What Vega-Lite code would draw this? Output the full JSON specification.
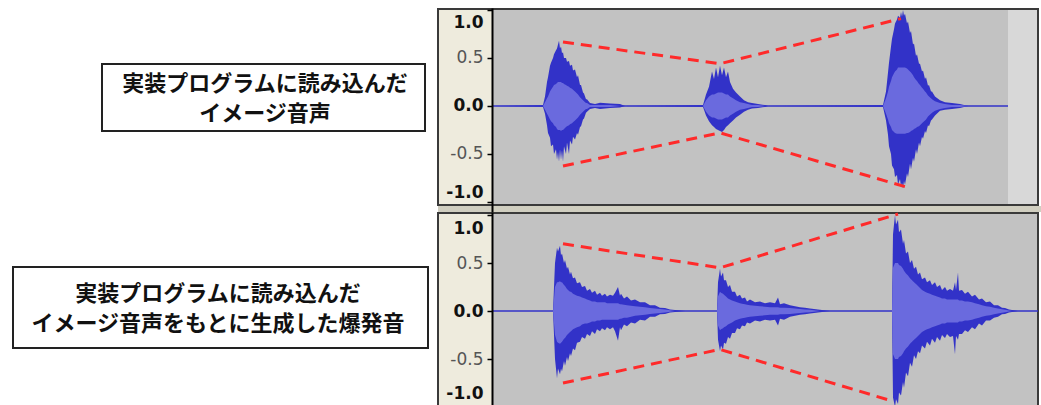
{
  "$schema": "https://vega.github.io/schema/vega-lite/v6.json",
  "background": "white",
  "padding": {"top": 7, "left": 0, "right": 0, "bottom": 0},
  "config": {"view": {"stroke": null}},
  "spacing": 0,
  "bounds": "flush",
  "datasets": {
    "regions": [
      {"p": "A", "part": "beige", "t1": -56, "t2": -1, "v1": -1.0417, "v2": 1.0208},
      {"p": "A", "part": "gray", "t1": -1, "t2": 514, "v1": -1.0417, "v2": 1.0208},
      {"p": "A", "part": "end", "t1": 514, "t2": 544, "v1": -1.0417, "v2": 1.0208},
      {"p": "A", "part": "band", "t1": -56, "t2": 547, "v1": -1.1042, "v2": -1.0417},
      {"p": "B", "part": "beige", "t1": -56, "t2": -1, "v1": -1.0, "v2": 1.03125},
      {"p": "B", "part": "gray", "t1": -1, "t2": 544, "v1": -1.0, "v2": 1.03125}
    ],
    "frames": [
      {"p": "A", "t1": -56, "t2": 544, "v1": -1.031, "v2": 1.0104},
      {"p": "B", "t1": -56, "t2": 544, "v1": -1.0, "v2": 1.0208}
    ],
    "baseline": [
      {"p": "A", "t1": -1, "t2": 514},
      {"p": "B", "t1": -1, "t2": 544}
    ],
    "wave": [
      {"p": "A", "t": 0, "h": 0, "l": 0, "rh": 0, "rl": 0},
      {"p": "A", "t": 49, "h": 0.01, "l": -0.01, "rh": 0, "rl": 0},
      {"p": "A", "t": 51, "h": 0.1, "l": -0.08, "rh": 0.04, "rl": -0.04},
      {"p": "A", "t": 53, "h": 0.25, "l": -0.2, "rh": 0.08, "rl": -0.08},
      {"p": "A", "t": 54, "h": 0.3, "l": -0.28, "rh": 0.1, "rl": -0.1},
      {"p": "A", "t": 56, "h": 0.42, "l": -0.33, "rh": 0.15, "rl": -0.14},
      {"p": "A", "t": 57, "h": 0.45, "l": -0.42, "rh": 0.17, "rl": -0.16},
      {"p": "A", "t": 59, "h": 0.5, "l": -0.4, "rh": 0.2, "rl": -0.18},
      {"p": "A", "t": 60, "h": 0.54, "l": -0.5, "rh": 0.22, "rl": -0.2},
      {"p": "A", "t": 62, "h": 0.58, "l": -0.45, "rh": 0.23, "rl": -0.22},
      {"p": "A", "t": 63, "h": 0.6, "l": -0.56, "rh": 0.24, "rl": -0.24},
      {"p": "A", "t": 64, "h": 0.64, "l": -0.48, "rh": 0.25, "rl": -0.25},
      {"p": "A", "t": 65, "h": 0.68, "l": -0.58, "rh": 0.25, "rl": -0.25},
      {"p": "A", "t": 66, "h": 0.6, "l": -0.45, "rh": 0.25, "rl": -0.25},
      {"p": "A", "t": 67, "h": 0.62, "l": -0.56, "rh": 0.25, "rl": -0.26},
      {"p": "A", "t": 68, "h": 0.55, "l": -0.46, "rh": 0.24, "rl": -0.25},
      {"p": "A", "t": 69, "h": 0.56, "l": -0.58, "rh": 0.24, "rl": -0.25},
      {"p": "A", "t": 70, "h": 0.5, "l": -0.42, "rh": 0.23, "rl": -0.24},
      {"p": "A", "t": 72, "h": 0.5, "l": -0.5, "rh": 0.22, "rl": -0.22},
      {"p": "A", "t": 73, "h": 0.46, "l": -0.38, "rh": 0.21, "rl": -0.21},
      {"p": "A", "t": 75, "h": 0.47, "l": -0.5, "rh": 0.2, "rl": -0.2},
      {"p": "A", "t": 76, "h": 0.42, "l": -0.36, "rh": 0.19, "rl": -0.19},
      {"p": "A", "t": 78, "h": 0.43, "l": -0.4, "rh": 0.18, "rl": -0.18},
      {"p": "A", "t": 79, "h": 0.37, "l": -0.32, "rh": 0.17, "rl": -0.17},
      {"p": "A", "t": 81, "h": 0.38, "l": -0.35, "rh": 0.15, "rl": -0.15},
      {"p": "A", "t": 83, "h": 0.3, "l": -0.28, "rh": 0.13, "rl": -0.13},
      {"p": "A", "t": 84, "h": 0.32, "l": -0.3, "rh": 0.12, "rl": -0.12},
      {"p": "A", "t": 86, "h": 0.22, "l": -0.22, "rh": 0.09, "rl": -0.09},
      {"p": "A", "t": 87, "h": 0.22, "l": -0.21, "rh": 0.08, "rl": -0.08},
      {"p": "A", "t": 89, "h": 0.14, "l": -0.14, "rh": 0.06, "rl": -0.06},
      {"p": "A", "t": 90, "h": 0.13, "l": -0.13, "rh": 0.05, "rl": -0.05},
      {"p": "A", "t": 92, "h": 0.07, "l": -0.07, "rh": 0.03, "rl": -0.03},
      {"p": "A", "t": 93, "h": 0.07, "l": -0.06, "rh": 0.03, "rl": -0.03},
      {"p": "A", "t": 96, "h": 0.03, "l": -0.03, "rh": 0.01, "rl": -0.01},
      {"p": "A", "t": 101, "h": 0.02, "l": -0.02, "rh": 0.01, "rl": -0.01},
      {"p": "A", "t": 106, "h": 0.035, "l": -0.03, "rh": 0.01, "rl": -0.01},
      {"p": "A", "t": 116, "h": 0.025, "l": -0.02, "rh": 0.01, "rl": -0.01},
      {"p": "A", "t": 126, "h": 0.02, "l": -0.015, "rh": 0, "rl": 0},
      {"p": "A", "t": 131, "h": 0, "l": 0, "rh": 0, "rl": 0},
      {"p": "A", "t": 209, "h": 0.01, "l": -0.01, "rh": 0, "rl": 0},
      {"p": "A", "t": 212, "h": 0.12, "l": -0.1, "rh": 0.06, "rl": -0.06},
      {"p": "A", "t": 215, "h": 0.2, "l": -0.16, "rh": 0.1, "rl": -0.1},
      {"p": "A", "t": 218, "h": 0.36, "l": -0.2, "rh": 0.12, "rl": -0.12},
      {"p": "A", "t": 220, "h": 0.28, "l": -0.22, "rh": 0.12, "rl": -0.12},
      {"p": "A", "t": 222, "h": 0.4, "l": -0.24, "rh": 0.13, "rl": -0.13},
      {"p": "A", "t": 224, "h": 0.3, "l": -0.25, "rh": 0.14, "rl": -0.14},
      {"p": "A", "t": 226, "h": 0.42, "l": -0.26, "rh": 0.14, "rl": -0.14},
      {"p": "A", "t": 228, "h": 0.32, "l": -0.27, "rh": 0.14, "rl": -0.14},
      {"p": "A", "t": 230, "h": 0.4, "l": -0.25, "rh": 0.13, "rl": -0.13},
      {"p": "A", "t": 232, "h": 0.3, "l": -0.22, "rh": 0.12, "rl": -0.12},
      {"p": "A", "t": 234, "h": 0.36, "l": -0.2, "rh": 0.12, "rl": -0.12},
      {"p": "A", "t": 236, "h": 0.25, "l": -0.18, "rh": 0.1, "rl": -0.1},
      {"p": "A", "t": 239, "h": 0.18, "l": -0.15, "rh": 0.08, "rl": -0.08},
      {"p": "A", "t": 242, "h": 0.14, "l": -0.12, "rh": 0.06, "rl": -0.06},
      {"p": "A", "t": 246, "h": 0.1, "l": -0.09, "rh": 0.04, "rl": -0.04},
      {"p": "A", "t": 250, "h": 0.06, "l": -0.06, "rh": 0.03, "rl": -0.03},
      {"p": "A", "t": 254, "h": 0.04, "l": -0.04, "rh": 0.02, "rl": -0.02},
      {"p": "A", "t": 258, "h": 0.03, "l": -0.025, "rh": 0.01, "rl": -0.01},
      {"p": "A", "t": 264, "h": 0.02, "l": -0.02, "rh": 0.01, "rl": -0.01},
      {"p": "A", "t": 271, "h": 0.01, "l": -0.01, "rh": 0, "rl": 0},
      {"p": "A", "t": 274, "h": 0, "l": 0, "rh": 0, "rl": 0},
      {"p": "A", "t": 389, "h": 0.01, "l": -0.01, "rh": 0, "rl": 0},
      {"p": "A", "t": 392, "h": 0.15, "l": -0.15, "rh": 0.08, "rl": -0.08},
      {"p": "A", "t": 394, "h": 0.35, "l": -0.3, "rh": 0.15, "rl": -0.14},
      {"p": "A", "t": 395, "h": 0.45, "l": -0.42, "rh": 0.2, "rl": -0.18},
      {"p": "A", "t": 397, "h": 0.62, "l": -0.5, "rh": 0.26, "rl": -0.22},
      {"p": "A", "t": 398, "h": 0.7, "l": -0.62, "rh": 0.3, "rl": -0.25},
      {"p": "A", "t": 400, "h": 0.8, "l": -0.66, "rh": 0.34, "rl": -0.27},
      {"p": "A", "t": 401, "h": 0.86, "l": -0.74, "rh": 0.36, "rl": -0.28},
      {"p": "A", "t": 403, "h": 0.9, "l": -0.72, "rh": 0.38, "rl": -0.29},
      {"p": "A", "t": 404, "h": 0.94, "l": -0.82, "rh": 0.4, "rl": -0.29},
      {"p": "A", "t": 406, "h": 0.92, "l": -0.76, "rh": 0.4, "rl": -0.29},
      {"p": "A", "t": 407, "h": 0.98, "l": -0.84, "rh": 0.4, "rl": -0.29},
      {"p": "A", "t": 408, "h": 0.93, "l": -0.8, "rh": 0.4, "rl": -0.29},
      {"p": "A", "t": 409, "h": 1.0, "l": -0.86, "rh": 0.4, "rl": -0.29},
      {"p": "A", "t": 410, "h": 0.94, "l": -0.78, "rh": 0.4, "rl": -0.29},
      {"p": "A", "t": 411, "h": 0.96, "l": -0.82, "rh": 0.4, "rl": -0.29},
      {"p": "A", "t": 413, "h": 0.86, "l": -0.7, "rh": 0.39, "rl": -0.28},
      {"p": "A", "t": 414, "h": 0.88, "l": -0.74, "rh": 0.38, "rl": -0.28},
      {"p": "A", "t": 416, "h": 0.76, "l": -0.6, "rh": 0.36, "rl": -0.27},
      {"p": "A", "t": 417, "h": 0.78, "l": -0.66, "rh": 0.35, "rl": -0.26},
      {"p": "A", "t": 419, "h": 0.64, "l": -0.54, "rh": 0.32, "rl": -0.25},
      {"p": "A", "t": 420, "h": 0.65, "l": -0.58, "rh": 0.3, "rl": -0.24},
      {"p": "A", "t": 422, "h": 0.52, "l": -0.45, "rh": 0.27, "rl": -0.23},
      {"p": "A", "t": 423, "h": 0.54, "l": -0.5, "rh": 0.26, "rl": -0.22},
      {"p": "A", "t": 425, "h": 0.44, "l": -0.38, "rh": 0.23, "rl": -0.21},
      {"p": "A", "t": 426, "h": 0.44, "l": -0.42, "rh": 0.22, "rl": -0.2},
      {"p": "A", "t": 428, "h": 0.36, "l": -0.32, "rh": 0.19, "rl": -0.18},
      {"p": "A", "t": 429, "h": 0.37, "l": -0.34, "rh": 0.18, "rl": -0.17},
      {"p": "A", "t": 431, "h": 0.28, "l": -0.26, "rh": 0.15, "rl": -0.15},
      {"p": "A", "t": 432, "h": 0.3, "l": -0.28, "rh": 0.14, "rl": -0.14},
      {"p": "A", "t": 434, "h": 0.21, "l": -0.2, "rh": 0.11, "rl": -0.11},
      {"p": "A", "t": 435, "h": 0.22, "l": -0.21, "rh": 0.1, "rl": -0.1},
      {"p": "A", "t": 437, "h": 0.15, "l": -0.15, "rh": 0.08, "rl": -0.08},
      {"p": "A", "t": 438, "h": 0.15, "l": -0.14, "rh": 0.07, "rl": -0.07},
      {"p": "A", "t": 441, "h": 0.1, "l": -0.1, "rh": 0.05, "rl": -0.05},
      {"p": "A", "t": 446, "h": 0.06, "l": -0.05, "rh": 0.03, "rl": -0.03},
      {"p": "A", "t": 451, "h": 0.04, "l": -0.04, "rh": 0.02, "rl": -0.02},
      {"p": "A", "t": 458, "h": 0.03, "l": -0.03, "rh": 0.01, "rl": -0.01},
      {"p": "A", "t": 466, "h": 0.02, "l": -0.02, "rh": 0.01, "rl": -0.01},
      {"p": "A", "t": 474, "h": 0, "l": 0, "rh": 0, "rl": 0},
      {"p": "A", "t": 514, "h": 0, "l": 0, "rh": 0, "rl": 0},
      {"p": "B", "t": 0, "h": 0, "l": 0, "rh": 0, "rl": 0},
      {"p": "B", "t": 59, "h": 0, "l": 0, "rh": 0, "rl": 0},
      {"p": "B", "t": 61, "h": 0.5, "l": -0.5, "rh": 0.25, "rl": -0.25},
      {"p": "B", "t": 63, "h": 0.66, "l": -0.7, "rh": 0.3, "rl": -0.32},
      {"p": "B", "t": 64, "h": 0.62, "l": -0.6, "rh": 0.3, "rl": -0.33},
      {"p": "B", "t": 66, "h": 0.68, "l": -0.66, "rh": 0.31, "rl": -0.34},
      {"p": "B", "t": 67, "h": 0.58, "l": -0.6, "rh": 0.3, "rl": -0.33},
      {"p": "B", "t": 68, "h": 0.6, "l": -0.63, "rh": 0.3, "rl": -0.32},
      {"p": "B", "t": 70, "h": 0.5, "l": -0.52, "rh": 0.27, "rl": -0.29},
      {"p": "B", "t": 71, "h": 0.53, "l": -0.57, "rh": 0.26, "rl": -0.28},
      {"p": "B", "t": 73, "h": 0.44, "l": -0.48, "rh": 0.23, "rl": -0.25},
      {"p": "B", "t": 74, "h": 0.46, "l": -0.52, "rh": 0.22, "rl": -0.24},
      {"p": "B", "t": 76, "h": 0.38, "l": -0.44, "rh": 0.2, "rl": -0.22},
      {"p": "B", "t": 77, "h": 0.41, "l": -0.47, "rh": 0.2, "rl": -0.21},
      {"p": "B", "t": 79, "h": 0.34, "l": -0.39, "rh": 0.18, "rl": -0.19},
      {"p": "B", "t": 81, "h": 0.35, "l": -0.41, "rh": 0.17, "rl": -0.18},
      {"p": "B", "t": 83, "h": 0.29, "l": -0.33, "rh": 0.16, "rl": -0.17},
      {"p": "B", "t": 86, "h": 0.3, "l": -0.32, "rh": 0.15, "rl": -0.16},
      {"p": "B", "t": 88, "h": 0.25, "l": -0.27, "rh": 0.14, "rl": -0.14},
      {"p": "B", "t": 91, "h": 0.26, "l": -0.29, "rh": 0.13, "rl": -0.13},
      {"p": "B", "t": 93, "h": 0.21, "l": -0.24, "rh": 0.12, "rl": -0.13},
      {"p": "B", "t": 96, "h": 0.23, "l": -0.26, "rh": 0.11, "rl": -0.12},
      {"p": "B", "t": 98, "h": 0.19, "l": -0.21, "rh": 0.1, "rl": -0.11},
      {"p": "B", "t": 101, "h": 0.21, "l": -0.24, "rh": 0.1, "rl": -0.11},
      {"p": "B", "t": 103, "h": 0.17, "l": -0.19, "rh": 0.09, "rl": -0.1},
      {"p": "B", "t": 106, "h": 0.19, "l": -0.21, "rh": 0.09, "rl": -0.1},
      {"p": "B", "t": 108, "h": 0.16, "l": -0.18, "rh": 0.09, "rl": -0.09},
      {"p": "B", "t": 111, "h": 0.18, "l": -0.2, "rh": 0.09, "rl": -0.09},
      {"p": "B", "t": 113, "h": 0.15, "l": -0.17, "rh": 0.08, "rl": -0.09},
      {"p": "B", "t": 116, "h": 0.17, "l": -0.19, "rh": 0.08, "rl": -0.09},
      {"p": "B", "t": 119, "h": 0.16, "l": -0.17, "rh": 0.08, "rl": -0.09},
      {"p": "B", "t": 121, "h": 0.19, "l": -0.21, "rh": 0.08, "rl": -0.09},
      {"p": "B", "t": 124, "h": 0.25, "l": -0.31, "rh": 0.08, "rl": -0.09},
      {"p": "B", "t": 126, "h": 0.16, "l": -0.17, "rh": 0.07, "rl": -0.08},
      {"p": "B", "t": 127, "h": 0.18, "l": -0.2, "rh": 0.07, "rl": -0.08},
      {"p": "B", "t": 130, "h": 0.13, "l": -0.14, "rh": 0.065, "rl": -0.07},
      {"p": "B", "t": 133, "h": 0.15, "l": -0.16, "rh": 0.06, "rl": -0.07},
      {"p": "B", "t": 137, "h": 0.11, "l": -0.12, "rh": 0.055, "rl": -0.06},
      {"p": "B", "t": 141, "h": 0.12, "l": -0.13, "rh": 0.05, "rl": -0.05},
      {"p": "B", "t": 146, "h": 0.09, "l": -0.09, "rh": 0.045, "rl": -0.045},
      {"p": "B", "t": 151, "h": 0.09, "l": -0.1, "rh": 0.04, "rl": -0.04},
      {"p": "B", "t": 156, "h": 0.06, "l": -0.06, "rh": 0.03, "rl": -0.03},
      {"p": "B", "t": 161, "h": 0.06, "l": -0.06, "rh": 0.025, "rl": -0.025},
      {"p": "B", "t": 166, "h": 0.035, "l": -0.035, "rh": 0.02, "rl": -0.02},
      {"p": "B", "t": 171, "h": 0.03, "l": -0.03, "rh": 0.015, "rl": -0.015},
      {"p": "B", "t": 176, "h": 0.015, "l": -0.015, "rh": 0.008, "rl": -0.008},
      {"p": "B", "t": 181, "h": 0.01, "l": -0.01, "rh": 0, "rl": 0},
      {"p": "B", "t": 191, "h": 0, "l": 0, "rh": 0, "rl": 0},
      {"p": "B", "t": 223, "h": 0, "l": 0, "rh": 0, "rl": 0},
      {"p": "B", "t": 224, "h": 0.3, "l": -0.3, "rh": 0.15, "rl": -0.15},
      {"p": "B", "t": 226, "h": 0.44, "l": -0.42, "rh": 0.2, "rl": -0.2},
      {"p": "B", "t": 227, "h": 0.36, "l": -0.36, "rh": 0.19, "rl": -0.19},
      {"p": "B", "t": 229, "h": 0.4, "l": -0.4, "rh": 0.18, "rl": -0.18},
      {"p": "B", "t": 230, "h": 0.32, "l": -0.33, "rh": 0.17, "rl": -0.17},
      {"p": "B", "t": 232, "h": 0.32, "l": -0.34, "rh": 0.15, "rl": -0.16},
      {"p": "B", "t": 234, "h": 0.25, "l": -0.27, "rh": 0.13, "rl": -0.14},
      {"p": "B", "t": 236, "h": 0.27, "l": -0.29, "rh": 0.12, "rl": -0.13},
      {"p": "B", "t": 238, "h": 0.2, "l": -0.23, "rh": 0.11, "rl": -0.12},
      {"p": "B", "t": 241, "h": 0.2, "l": -0.23, "rh": 0.1, "rl": -0.1},
      {"p": "B", "t": 243, "h": 0.15, "l": -0.18, "rh": 0.09, "rl": -0.09},
      {"p": "B", "t": 246, "h": 0.17, "l": -0.19, "rh": 0.08, "rl": -0.08},
      {"p": "B", "t": 248, "h": 0.13, "l": -0.15, "rh": 0.075, "rl": -0.075},
      {"p": "B", "t": 251, "h": 0.14, "l": -0.16, "rh": 0.07, "rl": -0.07},
      {"p": "B", "t": 253, "h": 0.1, "l": -0.12, "rh": 0.065, "rl": -0.065},
      {"p": "B", "t": 256, "h": 0.12, "l": -0.13, "rh": 0.06, "rl": -0.06},
      {"p": "B", "t": 261, "h": 0.09, "l": -0.1, "rh": 0.055, "rl": -0.055},
      {"p": "B", "t": 266, "h": 0.1, "l": -0.11, "rh": 0.05, "rl": -0.05},
      {"p": "B", "t": 271, "h": 0.08, "l": -0.09, "rh": 0.045, "rl": -0.045},
      {"p": "B", "t": 276, "h": 0.09, "l": -0.1, "rh": 0.04, "rl": -0.04},
      {"p": "B", "t": 281, "h": 0.08, "l": -0.09, "rh": 0.04, "rl": -0.04},
      {"p": "B", "t": 284, "h": 0.14, "l": -0.15, "rh": 0.04, "rl": -0.04},
      {"p": "B", "t": 286, "h": 0.07, "l": -0.08, "rh": 0.035, "rl": -0.035},
      {"p": "B", "t": 290, "h": 0.08, "l": -0.09, "rh": 0.035, "rl": -0.035},
      {"p": "B", "t": 296, "h": 0.06, "l": -0.06, "rh": 0.03, "rl": -0.03},
      {"p": "B", "t": 301, "h": 0.05, "l": -0.05, "rh": 0.025, "rl": -0.025},
      {"p": "B", "t": 306, "h": 0.04, "l": -0.04, "rh": 0.02, "rl": -0.02},
      {"p": "B", "t": 311, "h": 0.035, "l": -0.035, "rh": 0.015, "rl": -0.015},
      {"p": "B", "t": 316, "h": 0.025, "l": -0.025, "rh": 0.012, "rl": -0.012},
      {"p": "B", "t": 326, "h": 0.012, "l": -0.012, "rh": 0, "rl": 0},
      {"p": "B", "t": 336, "h": 0, "l": 0, "rh": 0, "rl": 0},
      {"p": "B", "t": 398, "h": 0, "l": 0, "rh": 0, "rl": 0},
      {"p": "B", "t": 399, "h": 0.8, "l": -0.9, "rh": 0.45, "rl": -0.45},
      {"p": "B", "t": 401, "h": 1.0, "l": -1.0, "rh": 0.5, "rl": -0.5},
      {"p": "B", "t": 402, "h": 0.9, "l": -0.92, "rh": 0.5, "rl": -0.5},
      {"p": "B", "t": 404, "h": 0.95, "l": -0.97, "rh": 0.5, "rl": -0.5},
      {"p": "B", "t": 405, "h": 0.82, "l": -0.85, "rh": 0.48, "rl": -0.48},
      {"p": "B", "t": 407, "h": 0.85, "l": -0.88, "rh": 0.47, "rl": -0.47},
      {"p": "B", "t": 409, "h": 0.7, "l": -0.74, "rh": 0.44, "rl": -0.44},
      {"p": "B", "t": 410, "h": 0.74, "l": -0.8, "rh": 0.42, "rl": -0.42},
      {"p": "B", "t": 412, "h": 0.6, "l": -0.64, "rh": 0.39, "rl": -0.39},
      {"p": "B", "t": 414, "h": 0.62, "l": -0.68, "rh": 0.37, "rl": -0.37},
      {"p": "B", "t": 416, "h": 0.5, "l": -0.54, "rh": 0.34, "rl": -0.34},
      {"p": "B", "t": 418, "h": 0.53, "l": -0.58, "rh": 0.32, "rl": -0.32},
      {"p": "B", "t": 420, "h": 0.44, "l": -0.46, "rh": 0.3, "rl": -0.3},
      {"p": "B", "t": 422, "h": 0.46, "l": -0.5, "rh": 0.28, "rl": -0.28},
      {"p": "B", "t": 424, "h": 0.38, "l": -0.42, "rh": 0.26, "rl": -0.26},
      {"p": "B", "t": 426, "h": 0.4, "l": -0.44, "rh": 0.24, "rl": -0.24},
      {"p": "B", "t": 428, "h": 0.33, "l": -0.36, "rh": 0.22, "rl": -0.22},
      {"p": "B", "t": 431, "h": 0.35, "l": -0.39, "rh": 0.2, "rl": -0.2},
      {"p": "B", "t": 433, "h": 0.3, "l": -0.32, "rh": 0.19, "rl": -0.19},
      {"p": "B", "t": 436, "h": 0.32, "l": -0.36, "rh": 0.18, "rl": -0.18},
      {"p": "B", "t": 438, "h": 0.27, "l": -0.29, "rh": 0.17, "rl": -0.17},
      {"p": "B", "t": 441, "h": 0.3, "l": -0.33, "rh": 0.16, "rl": -0.16},
      {"p": "B", "t": 443, "h": 0.25, "l": -0.27, "rh": 0.15, "rl": -0.15},
      {"p": "B", "t": 446, "h": 0.27, "l": -0.31, "rh": 0.14, "rl": -0.14},
      {"p": "B", "t": 448, "h": 0.22, "l": -0.25, "rh": 0.13, "rl": -0.13},
      {"p": "B", "t": 451, "h": 0.25, "l": -0.28, "rh": 0.13, "rl": -0.13},
      {"p": "B", "t": 453, "h": 0.21, "l": -0.24, "rh": 0.12, "rl": -0.12},
      {"p": "B", "t": 456, "h": 0.23, "l": -0.27, "rh": 0.12, "rl": -0.12},
      {"p": "B", "t": 459, "h": 0.21, "l": -0.26, "rh": 0.12, "rl": -0.12},
      {"p": "B", "t": 461, "h": 0.3, "l": -0.45, "rh": 0.12, "rl": -0.12},
      {"p": "B", "t": 462, "h": 0.22, "l": -0.26, "rh": 0.12, "rl": -0.12},
      {"p": "B", "t": 464, "h": 0.4, "l": -0.3, "rh": 0.12, "rl": -0.12},
      {"p": "B", "t": 465, "h": 0.21, "l": -0.24, "rh": 0.11, "rl": -0.11},
      {"p": "B", "t": 468, "h": 0.22, "l": -0.24, "rh": 0.11, "rl": -0.11},
      {"p": "B", "t": 471, "h": 0.18, "l": -0.2, "rh": 0.1, "rl": -0.1},
      {"p": "B", "t": 474, "h": 0.2, "l": -0.22, "rh": 0.1, "rl": -0.1},
      {"p": "B", "t": 478, "h": 0.15, "l": -0.17, "rh": 0.09, "rl": -0.09},
      {"p": "B", "t": 481, "h": 0.17, "l": -0.19, "rh": 0.08, "rl": -0.08},
      {"p": "B", "t": 485, "h": 0.12, "l": -0.13, "rh": 0.07, "rl": -0.07},
      {"p": "B", "t": 488, "h": 0.13, "l": -0.15, "rh": 0.06, "rl": -0.06},
      {"p": "B", "t": 492, "h": 0.09, "l": -0.1, "rh": 0.05, "rl": -0.05},
      {"p": "B", "t": 496, "h": 0.1, "l": -0.1, "rh": 0.045, "rl": -0.045},
      {"p": "B", "t": 500, "h": 0.06, "l": -0.07, "rh": 0.035, "rl": -0.035},
      {"p": "B", "t": 504, "h": 0.06, "l": -0.06, "rh": 0.025, "rl": -0.025},
      {"p": "B", "t": 508, "h": 0.035, "l": -0.035, "rh": 0.018, "rl": -0.018},
      {"p": "B", "t": 511, "h": 0.03, "l": -0.03, "rh": 0.012, "rl": -0.012},
      {"p": "B", "t": 515, "h": 0.015, "l": -0.015, "rh": 0.006, "rl": -0.006},
      {"p": "B", "t": 518, "h": 0.01, "l": -0.01, "rh": 0, "rl": 0},
      {"p": "B", "t": 524, "h": 0, "l": 0, "rh": 0, "rl": 0},
      {"p": "B", "t": 544, "h": 0, "l": 0, "rh": 0, "rl": 0}
    ],
    "envelope": [
      {"p": "A", "side": "upper", "t": 69, "v": 0.667},
      {"p": "A", "side": "upper", "t": 226, "v": 0.44},
      {"p": "A", "side": "upper", "t": 407, "v": 0.91},
      {"p": "A", "side": "lower", "t": 69, "v": -0.625},
      {"p": "A", "side": "lower", "t": 226, "v": -0.28},
      {"p": "A", "side": "lower", "t": 411, "v": -0.84},
      {"p": "B", "side": "upper", "t": 69, "v": 0.7},
      {"p": "B", "side": "upper", "t": 226, "v": 0.45},
      {"p": "B", "side": "upper", "t": 404, "v": 1.01},
      {"p": "B", "side": "lower", "t": 69, "v": -0.75},
      {"p": "B", "side": "lower", "t": 226, "v": -0.4},
      {"p": "B", "side": "lower", "t": 399, "v": -0.94}
    ],
    "notes": [
      {"p": "A", "t1": -392, "t2": -69, "v1": 0.4375, "v2": -0.26, "tx": -229, "ty": 0.229, "text": ["実装プログラムに読み込んだ", "イメージ音声"]},
      {"p": "B", "t1": -481, "t2": -66, "v1": 0.458, "v2": -0.385, "tx": -276, "ty": 0.177, "text": ["実装プログラムに読み込んだ", "イメージ音声をもとに生成した爆発音"]}
    ]
  },
  "vconcat": [
    {
      "width": 1041,
      "height": 204,
      "layer": [
        {
          "data": {"name": "regions"},
          "transform": [{"filter": "datum.p == 'A'"}],
          "mark": {"type": "rect"},
          "encoding": {
            "x": {"field": "t1", "type": "quantitative", "scale": {"domain": [-494, 547], "nice": false, "zero": false}, "axis": null},
            "x2": {"field": "t2"},
            "y": {"field": "v1", "type": "quantitative", "scale": {"domain": [-1.1042, 1.0208], "nice": false, "zero": false},
              "axis": {"zindex": 2, "values": [-1, -0.5, 0, 0.5, 1], "labelExpr": "(datum.value < 0 ? '-' : '') + format(abs(datum.value), '.1f')", "offset": -492, "title": null, "grid": false, "domain": true, "domainColor": "#000000", "domainWidth": 2, "ticks": true, "tickSize": 5, "tickColor": "#000000", "tickWidth": 1.5, "labelFont": "DejaVu Sans", "labelFontSize": 17, "labelFlush": 12, "labelFlushOffset": 0, "labelPadding": 4,
                "labelOffset": {"condition": {"test": "datum.value == 1", "value": 5}, "value": 0},
                "labelFontWeight": {"condition": {"test": "abs(datum.value) == 0.5", "value": "normal"}, "value": "bold"},
                "labelColor": {"condition": {"test": "abs(datum.value) == 0.5", "value": "#555555"}, "value": "#111111"}}},
            "y2": {"field": "v2"},
            "color": {"field": "part", "type": "nominal", "scale": {"domain": ["beige", "gray", "end", "band"], "range": ["#EEEBDD", "#C2C2C2", "#D8D8D8", "#D0CEC0"]}, "legend": null}
          }
        },
        {
          "data": {"name": "frames"},
          "transform": [{"filter": "datum.p == 'A'"}],
          "mark": {"type": "rect", "fill": null, "fillOpacity": 0, "stroke": "#3a3a3a", "strokeWidth": 2},
          "encoding": {
            "x": {"field": "t1", "type": "quantitative", "scale": {"domain": [-494, 547], "nice": false, "zero": false}, "axis": null},
            "x2": {"field": "t2"},
            "y": {"field": "v1", "type": "quantitative", "scale": {"domain": [-1.1042, 1.0208], "nice": false, "zero": false}},
            "y2": {"field": "v2"}
          }
        },
        {
          "data": {"name": "baseline"},
          "transform": [{"filter": "datum.p == 'A'"}],
          "mark": {"type": "rule", "color": "#3232C8", "strokeWidth": 1.5},
          "encoding": {
            "x": {"field": "t1", "type": "quantitative", "scale": {"domain": [-494, 547], "nice": false, "zero": false}, "axis": null},
            "x2": {"field": "t2"},
            "y": {"datum": 0, "type": "quantitative", "scale": {"domain": [-1.1042, 1.0208], "nice": false, "zero": false}}
          }
        },
        {
          "data": {"name": "wave"},
          "transform": [{"filter": "datum.p == 'A'"}],
          "mark": {"type": "area", "color": "#3232C8", "interpolate": "linear"},
          "encoding": {
            "x": {"field": "t", "type": "quantitative", "scale": {"domain": [-494, 547], "nice": false, "zero": false}, "axis": null},
            "y": {"field": "h", "type": "quantitative", "scale": {"domain": [-1.1042, 1.0208], "nice": false, "zero": false}},
            "y2": {"field": "l"}
          }
        },
        {
          "data": {"name": "wave"},
          "transform": [{"filter": "datum.p == 'A'"}],
          "mark": {"type": "area", "color": "#6A6ADE", "interpolate": "linear"},
          "encoding": {
            "x": {"field": "t", "type": "quantitative", "scale": {"domain": [-494, 547], "nice": false, "zero": false}, "axis": null},
            "y": {"field": "rh", "type": "quantitative", "scale": {"domain": [-1.1042, 1.0208], "nice": false, "zero": false}},
            "y2": {"field": "rl"}
          }
        },
        {
          "data": {"name": "envelope"},
          "transform": [{"filter": "datum.p == 'A'"}],
          "mark": {"type": "line", "color": "#FF2A2A", "strokeWidth": 3, "strokeDash": [11, 7]},
          "encoding": {
            "x": {"field": "t", "type": "quantitative", "scale": {"domain": [-494, 547], "nice": false, "zero": false}, "axis": null},
            "y": {"field": "v", "type": "quantitative", "scale": {"domain": [-1.1042, 1.0208], "nice": false, "zero": false}},
            "detail": {"field": "side", "type": "nominal"}
          }
        },
        {
          "data": {"name": "notes"},
          "transform": [{"filter": "datum.p == 'A'"}],
          "mark": {"type": "rect", "fill": "white", "stroke": "#222222", "strokeWidth": 2},
          "encoding": {
            "x": {"field": "t1", "type": "quantitative", "scale": {"domain": [-494, 547], "nice": false, "zero": false}, "axis": null},
            "x2": {"field": "t2"},
            "y": {"field": "v1", "type": "quantitative", "scale": {"domain": [-1.1042, 1.0208], "nice": false, "zero": false}},
            "y2": {"field": "v2"}
          }
        },
        {
          "data": {"name": "notes"},
          "transform": [{"filter": "datum.p == 'A'"}],
          "mark": {"type": "text", "font": "Noto Sans CJK JP", "fontWeight": "bold", "fontSize": 22, "lineHeight": 30, "align": "center", "baseline": "middle", "color": "#111111"},
          "encoding": {
            "x": {"field": "tx", "type": "quantitative", "scale": {"domain": [-494, 547], "nice": false, "zero": false}, "axis": null},
            "y": {"field": "ty", "type": "quantitative", "scale": {"domain": [-1.1042, 1.0208], "nice": false, "zero": false}},
            "text": {"field": "text"}
          }
        }
      ]
    },
    {
      "width": 1041,
      "height": 195,
      "layer": [
        {
          "data": {"name": "regions"},
          "transform": [{"filter": "datum.p == 'B'"}],
          "mark": {"type": "rect"},
          "encoding": {
            "x": {"field": "t1", "type": "quantitative", "scale": {"domain": [-494, 547], "nice": false, "zero": false}, "axis": null},
            "x2": {"field": "t2"},
            "y": {"field": "v1", "type": "quantitative", "scale": {"domain": [-1.0, 1.03125], "nice": false, "zero": false},
              "axis": {"zindex": 2, "values": [-1, -0.5, 0, 0.5, 1], "labelExpr": "(datum.value < 0 ? '-' : '') + format(abs(datum.value), '.1f')", "offset": -492, "title": null, "grid": false, "domain": true, "domainColor": "#000000", "domainWidth": 2, "ticks": true, "tickSize": 5, "tickColor": "#000000", "tickWidth": 1.5, "labelFont": "DejaVu Sans", "labelFontSize": 17, "labelFlush": 12, "labelFlushOffset": 0, "labelPadding": 4,
                "labelOffset": {"condition": [{"test": "datum.value == 1", "value": 5}, {"test": "datum.value == -1", "value": -5}], "value": 0},
                "labelFontWeight": {"condition": {"test": "abs(datum.value) == 0.5", "value": "normal"}, "value": "bold"},
                "labelColor": {"condition": {"test": "abs(datum.value) == 0.5", "value": "#555555"}, "value": "#111111"}}},
            "y2": {"field": "v2"},
            "color": {"field": "part", "type": "nominal", "scale": {"domain": ["beige", "gray", "end", "band"], "range": ["#EEEBDD", "#C2C2C2", "#D8D8D8", "#D0CEC0"]}, "legend": null}
          }
        },
        {
          "data": {"name": "frames"},
          "transform": [{"filter": "datum.p == 'B'"}],
          "mark": {"type": "rect", "fill": null, "fillOpacity": 0, "stroke": "#3a3a3a", "strokeWidth": 2},
          "encoding": {
            "x": {"field": "t1", "type": "quantitative", "scale": {"domain": [-494, 547], "nice": false, "zero": false}, "axis": null},
            "x2": {"field": "t2"},
            "y": {"field": "v1", "type": "quantitative", "scale": {"domain": [-1.0, 1.03125], "nice": false, "zero": false}},
            "y2": {"field": "v2"}
          }
        },
        {
          "data": {"name": "baseline"},
          "transform": [{"filter": "datum.p == 'B'"}],
          "mark": {"type": "rule", "color": "#3232C8", "strokeWidth": 1.5},
          "encoding": {
            "x": {"field": "t1", "type": "quantitative", "scale": {"domain": [-494, 547], "nice": false, "zero": false}, "axis": null},
            "x2": {"field": "t2"},
            "y": {"datum": 0, "type": "quantitative", "scale": {"domain": [-1.0, 1.03125], "nice": false, "zero": false}}
          }
        },
        {
          "data": {"name": "wave"},
          "transform": [{"filter": "datum.p == 'B'"}],
          "mark": {"type": "area", "color": "#3232C8", "interpolate": "linear"},
          "encoding": {
            "x": {"field": "t", "type": "quantitative", "scale": {"domain": [-494, 547], "nice": false, "zero": false}, "axis": null},
            "y": {"field": "h", "type": "quantitative", "scale": {"domain": [-1.0, 1.03125], "nice": false, "zero": false}},
            "y2": {"field": "l"}
          }
        },
        {
          "data": {"name": "wave"},
          "transform": [{"filter": "datum.p == 'B'"}],
          "mark": {"type": "area", "color": "#6A6ADE", "interpolate": "linear"},
          "encoding": {
            "x": {"field": "t", "type": "quantitative", "scale": {"domain": [-494, 547], "nice": false, "zero": false}, "axis": null},
            "y": {"field": "rh", "type": "quantitative", "scale": {"domain": [-1.0, 1.03125], "nice": false, "zero": false}},
            "y2": {"field": "rl"}
          }
        },
        {
          "data": {"name": "envelope"},
          "transform": [{"filter": "datum.p == 'B'"}],
          "mark": {"type": "line", "color": "#FF2A2A", "strokeWidth": 3, "strokeDash": [11, 7]},
          "encoding": {
            "x": {"field": "t", "type": "quantitative", "scale": {"domain": [-494, 547], "nice": false, "zero": false}, "axis": null},
            "y": {"field": "v", "type": "quantitative", "scale": {"domain": [-1.0, 1.03125], "nice": false, "zero": false}},
            "detail": {"field": "side", "type": "nominal"}
          }
        },
        {
          "data": {"name": "notes"},
          "transform": [{"filter": "datum.p == 'B'"}],
          "mark": {"type": "rect", "fill": "white", "stroke": "#222222", "strokeWidth": 2},
          "encoding": {
            "x": {"field": "t1", "type": "quantitative", "scale": {"domain": [-494, 547], "nice": false, "zero": false}, "axis": null},
            "x2": {"field": "t2"},
            "y": {"field": "v1", "type": "quantitative", "scale": {"domain": [-1.0, 1.03125], "nice": false, "zero": false}},
            "y2": {"field": "v2"}
          }
        },
        {
          "data": {"name": "notes"},
          "transform": [{"filter": "datum.p == 'B'"}],
          "mark": {"type": "text", "font": "Noto Sans CJK JP", "fontWeight": "bold", "fontSize": 22, "lineHeight": 30, "align": "center", "baseline": "middle", "color": "#111111"},
          "encoding": {
            "x": {"field": "tx", "type": "quantitative", "scale": {"domain": [-494, 547], "nice": false, "zero": false}, "axis": null},
            "y": {"field": "ty", "type": "quantitative", "scale": {"domain": [-1.0, 1.03125], "nice": false, "zero": false}},
            "text": {"field": "text"}
          }
        }
      ]
    }
  ]
}
